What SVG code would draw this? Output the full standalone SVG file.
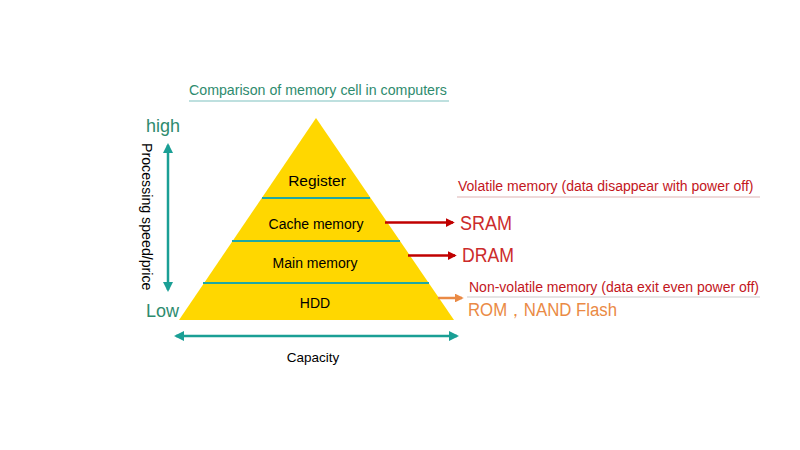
<svg xmlns="http://www.w3.org/2000/svg" width="800" height="450" viewBox="0 0 800 450">
<style>
text{font-family:"Liberation Sans",Arial,sans-serif}
.lvl{fill:#000;text-anchor:middle}
.sep{stroke:#1fa8a3;stroke-width:2}
.teal{stroke:#1a9f95;stroke-width:2.5;fill:none}
.green{fill:#2e8b6e}
.red{fill:#c3161c}
</style>
<defs>
<marker id="tealHead" viewBox="0 0 10 10" refX="8" refY="5" markerWidth="4" markerHeight="4" orient="auto-start-reverse"><path d="M0,0L10,5L0,10z" fill="#1a9f95"/></marker>
<marker id="redHead" viewBox="0 0 10 10" refX="8" refY="5" markerWidth="3.5" markerHeight="3.5" orient="auto"><path d="M0,0L10,5L0,10z" fill="#c00000"/></marker>
<marker id="orgHead" viewBox="0 0 10 10" refX="8" refY="5" markerWidth="3.5" markerHeight="3.5" orient="auto"><path d="M0,0L10,5L0,10z" fill="#ea8a45"/></marker>
</defs>
<rect width="800" height="450" fill="#fff"/>
<g id="title">
<text x="189" y="95" font-size="14.2" class="green">Comparison of memory cell in computers</text>
<line x1="189" y1="101" x2="449" y2="101" stroke="#a9d6d4" stroke-width="1.5"/>
</g>
<g id="pyramid">
<polygon points="316,118 454,320 179,320" fill="#ffd700"/>
<line class="sep" x1="262" y1="198" x2="370" y2="198"/>
<line class="sep" x1="232" y1="241" x2="400" y2="241"/>
<line class="sep" x1="203" y1="283" x2="429" y2="283"/>
</g>
<g id="register"><text class="lvl" x="317" y="186" font-size="15.5">Register</text></g>
<g id="cache"><text class="lvl" x="316" y="229" font-size="14">Cache memory</text></g>
<g id="main"><text class="lvl" x="315" y="268" font-size="14">Main memory</text></g>
<g id="hdd"><text class="lvl" x="315" y="308" font-size="14">HDD</text></g>
<g id="speed-axis">
<text x="146" y="132" font-size="18" class="green">high</text>
<text x="146" y="317" font-size="18" class="green">Low</text>
<text transform="translate(142,143) rotate(90)" font-size="14.2" fill="#000">Processing speed/price</text>
</g>
<g id="capacity-axis">
<text x="313" y="362" font-size="13.5" text-anchor="middle" fill="#000">Capacity</text>
</g>
<g id="volatile">
<text x="458" y="191" font-size="14" class="red">Volatile memory (data disappear with power off)</text>
<line x1="457" y1="197" x2="760" y2="197" stroke="#e8cccc" stroke-width="1.5"/>
</g>
<g id="sram"><text x="460" y="230" font-size="20" fill="#cc2b2b" textLength="52" lengthAdjust="spacingAndGlyphs">SRAM</text></g>
<g id="dram"><text x="462" y="262" font-size="20" fill="#cc2b2b" textLength="52" lengthAdjust="spacingAndGlyphs">DRAM</text></g>
<g id="nonvolatile">
<text x="469" y="292" font-size="14" class="red">Non-volatile memory (data exit even power off)</text>
<line x1="467" y1="297" x2="760" y2="297" stroke="#dddddd" stroke-width="1.5"/>
</g>
<g id="rom"><text x="468" y="316" font-size="18" fill="#ea8a45" textLength="149" lengthAdjust="spacingAndGlyphs">ROM，NAND Flash</text></g>
<g id="connectors">
<line class="teal" x1="168" y1="145" x2="168" y2="290" marker-start="url(#tealHead)" marker-end="url(#tealHead)"/>
<line class="teal" x1="176" y1="336" x2="457" y2="336" marker-start="url(#tealHead)" marker-end="url(#tealHead)"/>
<line x1="385" y1="222.5" x2="453" y2="222.5" stroke="#c00000" stroke-width="2.5" marker-end="url(#redHead)"/>
<line x1="408" y1="255.5" x2="455" y2="255.5" stroke="#c00000" stroke-width="2.5" marker-end="url(#redHead)"/>
<line x1="438" y1="298" x2="462" y2="298" stroke="#ea8a45" stroke-width="2.5" marker-end="url(#orgHead)"/>
</g>
</svg>
